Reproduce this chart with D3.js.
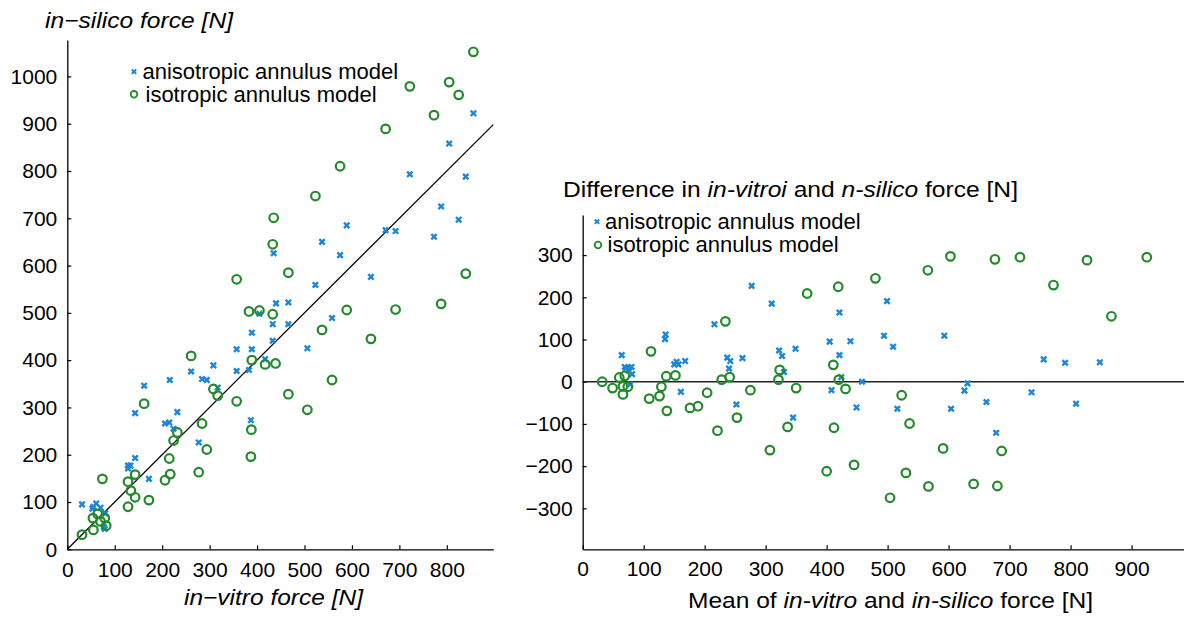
<!DOCTYPE html>
<html>
<head>
<meta charset="utf-8">
<title>in-vitro vs in-silico force</title>
<script src="https://cdn.jsdelivr.net/npm/d3@7"></script>
<style>
  body { margin: 0; background: #fff; }
  svg text { font-family: "Liberation Sans", Arial, sans-serif; fill: #000; }
</style>
</head>
<body>
<svg id="chart" width="1184" height="617"></svg>
<script>
// left panel: in-vitro (x) vs in-silico (y)
var leftAnisoX = [856,805,722,840,788,825,589,537,671,692,773,435,575,640,523,440,466,433,466,558,405,389,357,389,433,506,308,261,357,383,417,284,294,216,162,317,143,232,206,215,224,387,277,143,128,133,128,172,31,53,61,70,55,77,79,80];
var leftAnisoY = [922,858,793,788,725,697,685,650,675,673,661,626,622,576,559,520,522,476,476,489,498,458,423,423,441,425,389,376,377,379,402,360,358,358,346,342,288,290,266,268,255,273,226,193,177,177,171,149,95,86,97,88,90,47,43,76];
var leftIsoX = [856,805,825,722,773,671,575,523,435,433,466,357,840,788,692,589,383,405,433,537,640,389,417,439,261,558,308,317,466,357,506,162,284,388,387,232,224,294,215,277,217,206,143,128,74,134,143,172,128,54,64,70,79,82,55,31];
var leftIsoY = [1052,988,961,979,918,889,810,747,701,645,585,571,583,519,507,506,503,505,497,464,445,400,391,393,409,358,339,325,328,313,295,308,266,253,196,247,230,211,192,163,159,146,158,143,149,124,110,104,90,66,75,59,66,50,41,31];
var leftXTicks = [0,100,200,300,400,500,600,700,800];
var leftYTicks = [0,100,200,300,400,500,600,700,800,900,1000];

// right panel: mean vs difference
var rightAnisoMean = [64,71,76,80,81,78,69,75,136,135,150,154,157,168,161,216,237,242,240,262,252,277,310,322,327,330,349,345,405,421,421,424,408,439,449,458,499,494,509,516,593,604,626,631,662,678,756,791,848,736,809];
var rightAnisoDiff = [63,32,33,35,18,-6,35,27,112,101,41,47,41,49,-24,136,57,49,31,56,-54,227,185,74,61,23,78,-85,95,164,63,11,-20,96,-61,0,191,109,83,-64,109,-64,-21,-4,-48,-121,53,45,46,-25,-52];
var rightIsoMean = [32,49,60,69,66,66,74,112,109,126,129,137,152,138,176,189,204,221,228,234,241,253,275,307,321,323,336,350,368,411,419,420,431,412,400,445,480,504,523,536,530,566,603,567,591,641,680,676,687,717,772,827,925,867];
var rightIsoDiff = [0,-15,10,14,-11,-30,-12,72,-40,-34,-12,13,15,-69,-62,-58,-26,-116,5,143,11,-85,-20,-162,5,28,-107,-15,209,40,225,5,-17,-109,-212,-197,245,-275,-32,-99,-216,264,297,-248,-158,-242,-247,290,-164,295,229,288,295,155];
var rightXTicks = [0,100,200,300,400,500,600,700,800,900];
var rightYTicks = [-300,-200,-100,0,100,200,300];

var legendLabels = ["anisotropic annulus model", "isotropic annulus model"];

var blue = "#1a86dc", green = "#238a2c";
var svg = d3.select("#chart");

function cross(g, x, y, h, w) {
  g.append("path")
    .attr("d", "M" + (x-h) + "," + (y-h) + "L" + (x+h) + "," + (y+h) + "M" + (x-h) + "," + (y+h) + "L" + (x+h) + "," + (y-h))
    .attr("stroke", blue).attr("stroke-width", w).attr("fill", "none");
}
function ring(g, x, y, r, w) {
  g.append("circle").attr("cx", x).attr("cy", y).attr("r", r)
    .attr("stroke", green).attr("stroke-width", w).attr("fill", "none");
}
function styleAxis(g) {
  g.select(".domain").attr("stroke", "#000").attr("stroke-width", 1.3);
  g.selectAll(".tick line").attr("stroke", "#000").attr("stroke-width", 1.2);
  g.selectAll(".tick text").attr("font-size", 21).attr("fill", "#000")
    .attr("font-family", "Liberation Sans, Arial, sans-serif");
}
// titles in the original are drawn a little wider than plain Arial
function title(g, x, y, len, parts, anchor) {
  var t = g.append("text").attr("x", x).attr("y", y).attr("font-size", 22)
    .attr("textLength", len).attr("lengthAdjust", "spacingAndGlyphs")
    .attr("text-anchor", anchor || "start");
  parts.forEach(function (p) {
    t.append("tspan").attr("font-style", p[1] ? "italic" : "normal").text(p[0]);
  });
  return t;
}

// ---------- left panel ----------
var x1 = d3.scaleLinear().domain([0, 898]).range([67.3, 493.3]);
var y1 = d3.scaleLinear().domain([0, 1077]).range([549.3, 40]);

var L = svg.append("g");
L.append("g").attr("transform", "translate(0,549.3)")
  .call(d3.axisBottom(x1).tickValues(leftXTicks).tickSizeInner(-4).tickSizeOuter(0).tickPadding(13).tickFormat(d3.format("d")))
  .call(styleAxis);
L.append("g").attr("transform", "translate(67.3,0)")
  .call(d3.axisLeft(y1).tickValues(leftYTicks).tickSizeInner(-4).tickSizeOuter(0).tickPadding(10).tickFormat(d3.format("d")))
  .call(styleAxis);

L.append("line")
  .attr("x1", x1(0)).attr("y1", y1(0)).attr("x2", x1(898)).attr("y2", y1(898))
  .attr("stroke", "#000").attr("stroke-width", 1.3);

leftAnisoX.forEach(function (d, i) { cross(L, x1(d), y1(leftAnisoY[i]), 2.7, 2.4); });
leftIsoX.forEach(function (d, i) { ring(L, x1(d), y1(leftIsoY[i]), 4.3, 2.2); });

title(L, 45, 28, 188, [["in\u2212silico force [N]", true]]);
title(L, 184, 605, 179, [["in\u2212vitro force [N]", true]]);

cross(L, 134, 71.7, 2.2, 2);
ring(L, 134, 94.3, 3.3, 1.8);
L.append("text").attr("x", 142.5).attr("y", 79).attr("font-size", 22).text(legendLabels[0]);
L.append("text").attr("x", 145.5).attr("y", 101.5).attr("font-size", 22).text(legendLabels[1]);

// ---------- right panel ----------
var x2 = d3.scaleLinear().domain([0, 986]).range([582.7, 1184]);
var y2 = d3.scaleLinear().domain([-397, 395]).range([549.3, 215]);

var R = svg.append("g");
R.append("g").attr("transform", "translate(0,549.3)")
  .call(d3.axisBottom(x2).tickValues(rightXTicks).tickSizeInner(-4).tickSizeOuter(0).tickPadding(12).tickFormat(d3.format("d")))
  .call(styleAxis);
R.append("g").attr("transform", "translate(582.7,0)")
  .call(d3.axisLeft(y2).tickValues(rightYTicks).tickSizeInner(-4).tickSizeOuter(0).tickPadding(10))
  .call(styleAxis);

R.append("line")
  .attr("x1", x2(0)).attr("y1", y2(0)).attr("x2", 1184).attr("y2", y2(0))
  .attr("stroke", "#222").attr("stroke-width", 1.5);

rightAnisoMean.forEach(function (d, i) { cross(R, x2(d), y2(rightAnisoDiff[i]), 2.7, 2.4); });
rightIsoMean.forEach(function (d, i) { ring(R, x2(d), y2(rightIsoDiff[i]), 4.3, 2.2); });

title(R, 563, 197, 455, [["Difference in ", false], ["in-vitroi", true], [" and ", false], ["n-silico", true], [" force [N]", false]]);
title(R, 688, 608, 405, [["Mean of ", false], ["in-vitro", true], [" and ", false], ["in-silico", true], [" force [N]", false]]);

cross(R, 597, 221.7, 2.2, 2);
ring(R, 598, 245, 3.3, 1.8);
R.append("text").attr("x", 605).attr("y", 228.5).attr("font-size", 22).text(legendLabels[0]);
R.append("text").attr("x", 607.5).attr("y", 251.5).attr("font-size", 22).text(legendLabels[1]);
</script>
</body>
</html>
